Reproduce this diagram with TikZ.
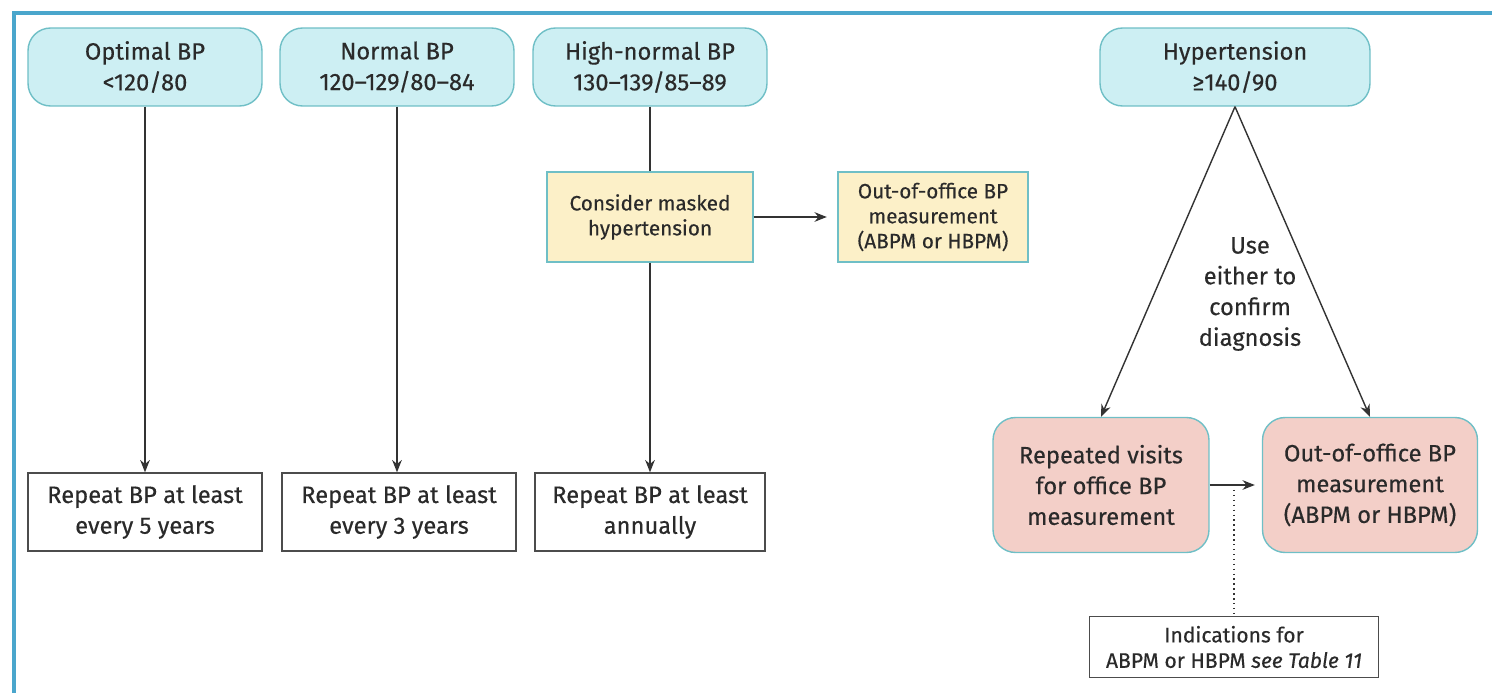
\documentclass[tikz,border=0pt]{standalone}
\usepackage{fontspec}
\setmainfont{Fira Sans}[FakeBold=0.35]
\usepackage{tikz}
\usetikzlibrary{arrows, arrows.meta, shapes}
\definecolor{bpcyan}{HTML}{CDEFF3}
\definecolor{bpyellow}{HTML}{FCF0C8}
\definecolor{bppink}{HTML}{F3CFC8}
\definecolor{bpedge}{HTML}{6FBFC6}
\definecolor{bpframe}{HTML}{4AA6CC}
\definecolor{bptext}{HTML}{2A2A2A}
\tikzstyle{cblock} = [rectangle, draw=bpedge, fill=bpcyan, thick, text=bptext,
align=center, rounded corners=0.45cm, minimum width=4.68cm, minimum height=1.56cm]
\tikzstyle{yblock} = [rectangle, draw=bpedge, fill=bpyellow, thick, text=bptext,
align=center, minimum height=1.8cm, font=\fontsize{11.8}{14.2}\selectfont]
\tikzstyle{pblock} = [rectangle, draw=bpedge, fill=bppink, thick, text=bptext,
align=center, rounded corners=0.45cm, minimum width=4.32cm, minimum height=2.7cm]
\tikzstyle{wblock} = [rectangle, draw=black!70, fill=white, thick, text=bptext,
align=center, minimum width=4.68cm, minimum height=1.56cm]
\tikzstyle{arrow} = [thick,->,>={Stealth[length=7pt,width=5.5pt]}, draw=black!80]

\begin{document}
\begin{tikzpicture}[x=0.02cm, y=-0.02cm]
    \tikzstyle{every node}=[font=\fontsize{13.5}{17.5}\selectfont]
    \useasboundingbox (0,0) rectangle (1492,693);
    \draw [bpframe, line width=2.3pt] (14,693) -- (14,13) -- (1492,13);

    % top row
    \node (Opt) [cblock] at (145,67) {Optimal BP\\<120/80};
    \node (Norm) [cblock] at (397,67) {Normal BP\\120--129/80--84};
    \node (High) [cblock] at (650,67) {High-normal BP\\130--139/85--89};
    \node (Hyp) [cblock, minimum width=5.4cm] at (1235,67) {Hypertension\\≥140/90};

    \node (Mask) [yblock, minimum width=4.12cm] at (650,217) {Consider masked\\hypertension};
    \node (OutA) [yblock, minimum width=3.8cm] at (933,217) {Out-of-office BP\\measurement\\(ABPM or HBPM)};

    % bottom row
    \node (Rep5) [wblock] at (145,512) {Repeat BP at least\\every 5 years};
    \node (Rep3) [wblock] at (399,512) {Repeat BP at least\\every 3 years};
    \node (Rep1) [wblock, minimum width=4.6cm] at (650,512) {Repeat BP at least\\annually};

    \node (Visit) [pblock] at (1101,485) {Repeated visits\\for office BP\\measurement};
    \node (OutB) [pblock, minimum width=4.3cm] at (1370,485) {Out-of-office BP\\measurement\\(ABPM or HBPM)};
    \node (Ind) [wblock, minimum width=5.78cm, minimum height=1.22cm, font=\fontsize{12}{14.5}\selectfont] at (1234,647) {Indications for\\ABPM or HBPM \textit{see Table 11}};
    \node (Use) [text=bptext, align=center] at (1250,294) {Use\\either to\\confirm\\diagnosis};
    \coordinate (Jn) at (Ind.north |- Visit.east);

    \draw [arrow] (Opt) -- (Opt |- Rep5.north);
    \draw [arrow] (Norm) -- (Norm |- Rep3.north);
    \draw [thick, black!80] (High) -- (Mask);
    \draw [arrow] (Mask) -- (Rep1);
    \draw [arrow] (Mask) -- ([xshift=-6pt]OutA.west);
    \draw [arrow] (Hyp.south) -- (Visit.north);
    \draw [arrow] (Hyp.south) -- (OutB.north);
    \draw [arrow] (Visit) -- ([xshift=-4pt]OutB.west);
    \draw [thick, dotted, black!80] (Jn) -- (Ind);
\end{tikzpicture}
\end{document}
